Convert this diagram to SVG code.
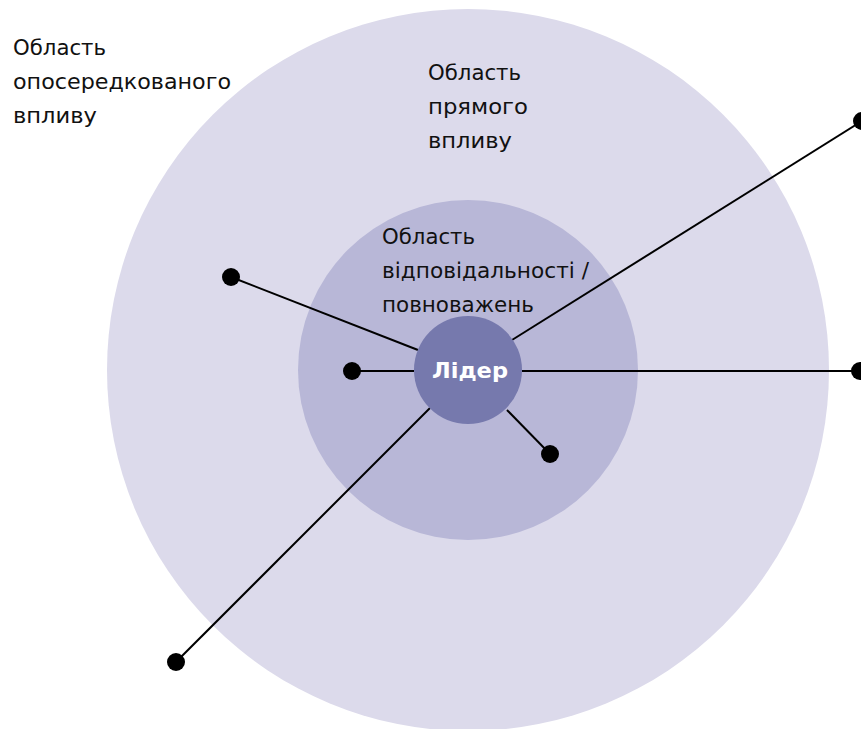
<svg xmlns="http://www.w3.org/2000/svg" width="861" height="729" viewBox="0 0 861 729">
<style>
.lbl{font-family:"DejaVu Sans","Liberation Sans",sans-serif;font-size:22px;fill:#111;}
.ld{font-family:"DejaVu Sans","Liberation Sans",sans-serif;font-size:22px;font-weight:bold;fill:#fff;}
.ln{stroke:#000;stroke-width:2;fill:none;}
.dot{fill:#000;}
</style>
<rect width="861" height="729" fill="#fff"/>
<g id="outer-area">
<circle cx="468" cy="370" r="361" fill="#DCDAEB"/>
<text class="lbl" x="428" y="80" textLength="93" lengthAdjust="spacingAndGlyphs">Область</text>
<text class="lbl" x="428" y="114" textLength="100" lengthAdjust="spacingAndGlyphs">прямого</text>
<text class="lbl" x="428" y="148" textLength="84" lengthAdjust="spacingAndGlyphs">впливу</text>
</g>
<g id="indirect-label">
<text class="lbl" x="13" y="55" textLength="93" lengthAdjust="spacingAndGlyphs">Область</text>
<text class="lbl" x="13" y="89" textLength="218" lengthAdjust="spacingAndGlyphs">опосередкованого</text>
<text class="lbl" x="13" y="123" textLength="84" lengthAdjust="spacingAndGlyphs">впливу</text>
</g>
<g id="middle-area">
<circle cx="468" cy="370" r="170" fill="#B8B7D7"/>
<text class="lbl" x="382" y="244" textLength="93" lengthAdjust="spacingAndGlyphs">Область</text>
<text class="lbl" x="382" y="278" textLength="207" lengthAdjust="spacingAndGlyphs">відповідальності /</text>
<text class="lbl" x="382" y="312" textLength="152" lengthAdjust="spacingAndGlyphs">повноважень</text>
</g>
<g id="connectors">
<line class="ln" x1="231" y1="277" x2="418" y2="350"/>
<line class="ln" x1="352" y1="371" x2="414" y2="371"/>
<line class="ln" x1="550" y1="454" x2="507" y2="410"/>
<line class="ln" x1="862" y1="121" x2="512" y2="340"/>
<line class="ln" x1="860" y1="371" x2="522" y2="371"/>
<line class="ln" x1="176" y1="662" x2="430" y2="408"/>
</g>
<g id="leader">
<circle cx="468" cy="370" r="54" fill="#7679AD"/>
<text class="ld" x="432" y="378" textLength="76" lengthAdjust="spacingAndGlyphs">Лідер</text>
</g>
<g id="dots">
<circle class="dot" cx="231" cy="277" r="9"/>
<circle class="dot" cx="352" cy="371" r="9"/>
<circle class="dot" cx="550" cy="454" r="9"/>
<circle class="dot" cx="862" cy="121" r="9"/>
<circle class="dot" cx="860" cy="371" r="9"/>
<circle class="dot" cx="176" cy="662" r="9"/>
</g>
</svg>
